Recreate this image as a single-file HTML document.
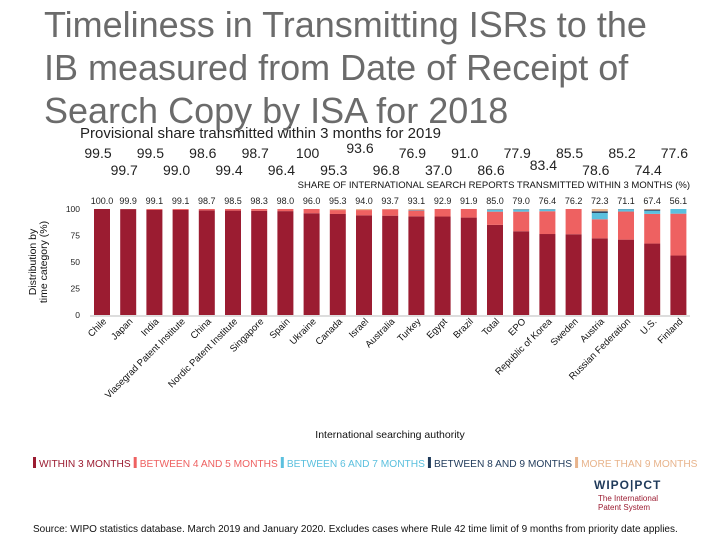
<!DOCTYPE html>
<html><head><meta charset="utf-8"><style>
body{margin:0;width:720px;height:540px;overflow:hidden;background:#fff;font-family:"Liberation Sans",sans-serif;position:relative}
.t{position:absolute;white-space:nowrap}
</style></head><body>
<div class="t" style="left:44px;top:3px;font-size:36px;line-height:43px;color:#6b6b6b">Timeliness in Transmitting ISRs to the<br>IB measured from Date of Receipt of<br>Search Copy by ISA for 2018</div>
<div class="t" style="left:80px;top:125px;font-size:15px;color:#222">Provisional share transmitted within 3 months for 2019</div>
<svg id="c" width="720" height="540" style="position:absolute;left:0;top:0"></svg>
<div class="t" style="left:33px;top:524px;font-size:10px;color:#111">Source: WIPO statistics database. March 2019 and January 2020. Excludes cases where Rule 42 time limit of 9 months from priority date applies.</div>
<script>
const categories=["Chile","Japan","India","Viasegrad Patent Institute","China","Nordic Patent Institute","Singapore","Spain","Ukraine","Canada","Israel","Australia","Turkey","Egypt","Brazil","Total","EPO","Republic of Korea","Sweden","Austria","Russian Federation","U.S.","Finland"];
const within3=[100.0,99.9,99.1,99.1,98.7,98.5,98.3,98.0,96.0,95.3,94.0,93.7,93.1,92.9,91.9,85.0,79.0,76.4,76.2,72.3,71.1,67.4,56.1];
const m4to5=[0,0.1,0.9,0.9,1.3,1.5,1.7,2.0,4.0,3.7,5.0,6.0,5.5,7.1,8.1,12.5,18.5,21.5,23.8,18.0,26.5,28.0,39.5];
const m6to7=[0,0,0,0,0,0,0,0,0,0,0,0,0.5,0,0,1.8,2.0,1.8,0,6.0,2.2,3.0,4.4];
const m8to9=[0,0,0,0,0,0,0,0,0,0,0,0,0,0,0,0.4,0.3,0.2,0,1.5,0.2,1.0,0];
const over9=[0,0,0,0,0,0,0,0,0,1.0,1.0,0.3,0.9,0,0,0.3,0.2,0.1,0,2.2,0,0.6,0];
const yTicks=[0,25,50,75,100];
const prov1=["99.5","99.5","98.6","98.7","100","93.6","76.9","91.0","77.9","85.5","85.2","77.6"];
const prov2=["99.7","99.0","99.4","96.4","95.3","96.8","37.0","86.6","83.4","78.6","74.4"];
const legend=[["WITHIN 3 MONTHS","#9b1c31"],["BETWEEN 4 AND 5 MONTHS","#ee6161"],["BETWEEN 6 AND 7 MONTHS","#5bc0de"],["BETWEEN 8 AND 9 MONTHS","#1f3a5a"],["MORE THAN 9 MONTHS","#e8b48c"]];
const NS="http://www.w3.org/2000/svg",svg=document.getElementById('c');
function mk(tag,a,txt){const e=document.createElementNS(NS,tag);for(const k in a)e.setAttribute(k,a[k]);if(txt!=null)e.textContent=txt;svg.appendChild(e);return e;}
const y0=315,y100=209,x0=102,step=26.2,bw=16;
const Y=v=>y0-(v/100)*(y0-y100), X=i=>x0+i*step;
const series=[[within3,"#9b1c31"],[m4to5,"#ee6161"],[m6to7,"#5bc0de"],[m8to9,"#1f3a5a"],[over9,"#e8b48c"]];
yTicks.forEach(t=>{const e=mk('text',{x:80,y:Y(t)+3,'font-size':8.5,'text-anchor':'end',fill:'#222'},t);});
const ax=mk('line',{x1:90,x2:690,y1:y0+1,y2:y0+1,stroke:'#bbb'});
categories.forEach((c,i)=>{let acc=0;series.forEach(([arr,col],s)=>{const v=arr[i];if(v>0){const r=mk('rect',{x:X(i)-bw/2,y:Y(acc+v),width:bw,height:Y(acc)-Y(acc+v),fill:col});}acc+=v;});
const vl=mk('text',{x:X(i),y:204,'font-size':9,'text-anchor':'middle',fill:'#222'},within3[i].toFixed(1));
const cl=mk('text',{x:X(i)+5,y:322,'font-size':9.5,'text-anchor':'end',fill:'#111',transform:`rotate(-45 ${X(i)+5} 322)`},c);});
prov1.forEach((p,k)=>{const e=mk('text',{x:X(2*k)-4,y:k==5?153:158,'font-size':14,'text-anchor':'middle',fill:'#222'},p);});
prov2.forEach((p,k)=>{const e=mk('text',{x:X(2*k+1)-4,y:k==8?170:175,'font-size':14,'text-anchor':'middle',fill:'#222'},p);});
let e=mk('text',{x:690,y:188,'font-size':9.5,'text-anchor':'end',fill:'#111'},'SHARE OF INTERNATIONAL SEARCH REPORTS TRANSMITTED WITHIN 3 MONTHS (%)');
e=mk('text',{x:0,y:0,'font-size':10.5,'text-anchor':'middle',fill:'#111',transform:'translate(40 262) rotate(-90)'});e.innerHTML='<tspan x="0" dy="-4">Distribution by</tspan><tspan x="0" dy="11">time category (%)</tspan>';
e=mk('text',{x:390,y:438,'font-size':10.5,'text-anchor':'middle',fill:'#111'},'International searching authority');
let lx=33;legend.forEach(([t,c])=>{const r=mk('rect',{x:lx,y:457,width:3,height:11,fill:c});const tx=mk('text',{x:lx+6,y:467,'font-size':10.2,fill:c},t);lx+=tx.getComputedTextLength()+9;});
e=mk('text',{x:594,y:489,'font-size':12,'font-weight':'bold',fill:'#1f3a5a','letter-spacing':'1'},'WIPO|PCT');
e=mk('text',{x:598,y:501,'font-size':8,fill:'#9b1c31'},'The International');
e=mk('text',{x:598,y:510,'font-size':8,fill:'#9b1c31'},'Patent System');
</script>
</body></html>
